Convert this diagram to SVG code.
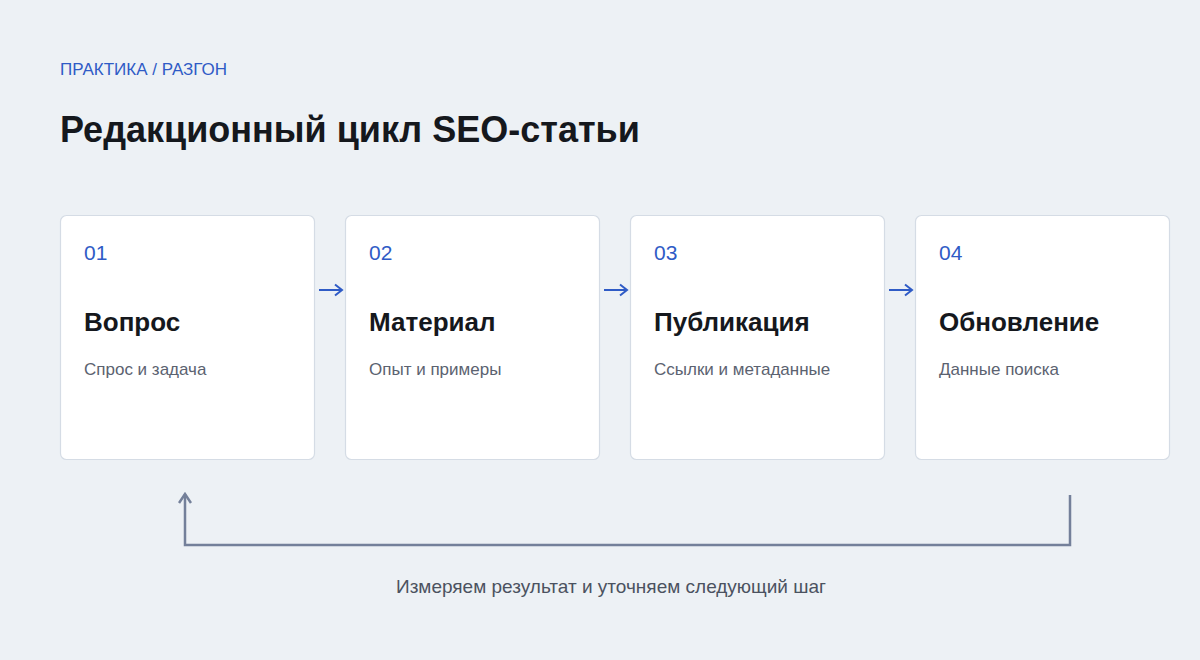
<svg xmlns="http://www.w3.org/2000/svg" width="1200" height="660" viewBox="0 0 1200 660">
<defs>
<style>
.bg{fill:#edf1f5}
.card{fill:#ffffff;stroke:#d5dce5;stroke-width:1.2}
.num{font-family:"Liberation Sans",Arial,sans-serif;font-size:21px;fill:#2f5bc6}
.ttl{font-family:"Liberation Sans",Arial,sans-serif;font-size:26px;font-weight:bold;fill:#15181d}
.sub{font-family:"Liberation Sans",Arial,sans-serif;font-size:17px;fill:#5b6270}
.flow{fill:none;stroke:#2f5bc6;stroke-width:2}
.back{fill:none;stroke:#74809a;stroke-width:2.5}
</style>
<marker id="ah" viewBox="0 0 14 14" refX="12" refY="7" markerWidth="14" markerHeight="14" markerUnits="userSpaceOnUse" orient="auto">
<path d="M5,1.5 L12,7 L5,12.5" fill="none" stroke="#2f5bc6" stroke-width="2"/>
</marker>
<marker id="ahb" viewBox="0 0 14 14" refX="12" refY="7" markerWidth="14" markerHeight="14" markerUnits="userSpaceOnUse" orient="auto">
<path d="M3,1 L12,7 L3,13" fill="none" stroke="#74809a" stroke-width="2.5"/>
</marker>
</defs>
<rect class="bg" width="1200" height="660"/>
<text x="60" y="75" font-family="Liberation Sans,Arial,sans-serif" font-size="17" fill="#2f5bc6">ПРАКТИКА / РАЗГОН</text>
<text x="60" y="142" font-family="Liberation Sans,Arial,sans-serif" font-size="36" font-weight="bold" fill="#15181d">Редакционный цикл SEO-статьи</text>
<g id="node1">
<rect class="card" x="60.5" y="215.5" width="254" height="244" rx="6"/>
<text class="num" x="84" y="260">01</text>
<text class="ttl" x="84" y="331">Вопрос</text>
<text class="sub" x="84" y="375">Спрос и задача</text>
</g>
<g id="node2">
<rect class="card" x="345.5" y="215.5" width="254" height="244" rx="6"/>
<text class="num" x="369" y="260">02</text>
<text class="ttl" x="369" y="331">Материал</text>
<text class="sub" x="369" y="375">Опыт и примеры</text>
</g>
<g id="node3">
<rect class="card" x="630.5" y="215.5" width="254" height="244" rx="6"/>
<text class="num" x="654" y="260">03</text>
<text class="ttl" x="654" y="331">Публикация</text>
<text class="sub" x="654" y="375">Ссылки и метаданные</text>
</g>
<g id="node4">
<rect class="card" x="915.5" y="215.5" width="254" height="244" rx="6"/>
<text class="num" x="939" y="260">04</text>
<text class="ttl" x="939" y="331">Обновление</text>
<text class="sub" x="939" y="375">Данные поиска</text>
</g>
<g id="connectors">
<line class="flow" x1="319" y1="290" x2="342" y2="290" marker-end="url(#ah)"/>
<line class="flow" x1="604" y1="290" x2="627" y2="290" marker-end="url(#ah)"/>
<line class="flow" x1="889" y1="290" x2="912" y2="290" marker-end="url(#ah)"/>
<path class="back" d="M1070,495 L1070,545 L185,545 L185,494" marker-end="url(#ahb)"/>
</g>
<text x="611" y="593" text-anchor="middle" font-family="Liberation Sans,Arial,sans-serif" font-size="19" fill="#4b5260">Измеряем результат и уточняем следующий шаг</text>
</svg>
